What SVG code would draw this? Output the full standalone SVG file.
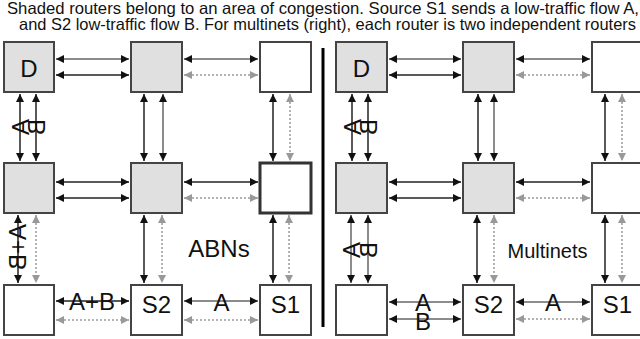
<svg xmlns="http://www.w3.org/2000/svg" width="640" height="339" viewBox="0 0 640 339">
<defs>
<marker id="hb" viewBox="0 0 10 10" refX="10" refY="5" markerWidth="9" markerHeight="8" markerUnits="userSpaceOnUse" orient="auto-start-reverse"><path d="M0,0 L10,5 L0,10 z" fill="#111"/></marker>
<marker id="hg" viewBox="0 0 10 10" refX="10" refY="5" markerWidth="9" markerHeight="8" markerUnits="userSpaceOnUse" orient="auto-start-reverse"><path d="M0,0 L10,5 L0,10 z" fill="#999"/></marker>
</defs>
<style>
.box{stroke:#444;stroke-width:2;fill:#fff}
.sh{fill:#e0e0e0}
.thick{stroke:#333;stroke-width:3}
.s{stroke:#222;stroke-width:1.5;fill:none;marker-start:url(#hb);marker-end:url(#hb)}
.g{stroke:#666;stroke-width:1.5;fill:none;marker-start:url(#hb);marker-end:url(#hb)}
.d{stroke:#999;stroke-width:1.5;stroke-dasharray:2,2;fill:none;marker-start:url(#hg);marker-end:url(#hg)}
text{font-family:"Liberation Sans",Arial,sans-serif;fill:#111}
.lbl{font-size:24px;text-anchor:middle}
.big{font-size:24px;text-anchor:middle}
.title{font-size:16.5px}
</style>
<rect width="640" height="339" fill="#fff"/>
<text class="title" x="7" y="14" textLength="632" lengthAdjust="spacingAndGlyphs">Shaded routers belong to an area of congestion. Source S1 sends a low-traffic flow A,</text>
<text class="title" x="19" y="29.5" textLength="617" lengthAdjust="spacingAndGlyphs">and S2 low-traffic flow B. For multinets (right), each router is two independent routers</text>
<line x1="323" y1="48" x2="323" y2="327" stroke="#000" stroke-width="3"/>
<g id="connectors">
<line class="g" x1="56" y1="59" x2="129" y2="59"/>
<line class="s" x1="56" y1="75" x2="129" y2="75"/>
<line class="g" x1="184" y1="59" x2="258" y2="59"/>
<line class="d" x1="184" y1="75" x2="258" y2="75"/>
<line class="s" x1="56" y1="182" x2="129" y2="182"/>
<line class="s" x1="56" y1="198" x2="129" y2="198"/>
<line class="s" x1="184" y1="182" x2="258" y2="182"/>
<line class="d" x1="184" y1="198" x2="258" y2="198"/>
<line class="s" x1="56" y1="301" x2="129" y2="301"/>
<line class="d" x1="56" y1="320" x2="129" y2="320"/>
<line class="g" x1="184" y1="301" x2="258" y2="301"/>
<line class="d" x1="184" y1="320" x2="258" y2="320"/>
<line class="s" x1="20" y1="94" x2="20" y2="161"/>
<line class="s" x1="36" y1="94" x2="36" y2="161"/>
<line class="s" x1="144" y1="94" x2="144" y2="161"/>
<line class="g" x1="163" y1="94" x2="163" y2="161"/>
<line class="s" x1="273" y1="94" x2="273" y2="161"/>
<line class="d" x1="290" y1="94" x2="290" y2="161"/>
<line class="s" x1="18" y1="215" x2="18" y2="283"/>
<line class="d" x1="36" y1="215" x2="36" y2="283"/>
<line class="s" x1="144" y1="215" x2="144" y2="283"/>
<line class="d" x1="162" y1="215" x2="162" y2="283"/>
<line class="s" x1="273" y1="215" x2="273" y2="283"/>
<line class="d" x1="289" y1="215" x2="289" y2="283"/>
<line class="g" x1="389" y1="59" x2="461" y2="59"/>
<line class="s" x1="389" y1="75" x2="461" y2="75"/>
<line class="g" x1="516" y1="59" x2="590" y2="59"/>
<line class="d" x1="516" y1="75" x2="590" y2="75"/>
<line class="s" x1="389" y1="182" x2="461" y2="182"/>
<line class="s" x1="389" y1="198" x2="461" y2="198"/>
<line class="s" x1="516" y1="182" x2="590" y2="182"/>
<line class="d" x1="516" y1="198" x2="590" y2="198"/>
<line class="g" x1="389" y1="302" x2="461" y2="302"/>
<line class="g" x1="389" y1="319" x2="461" y2="319"/>
<line class="g" x1="516" y1="302" x2="590" y2="302"/>
<line class="d" x1="516" y1="319" x2="590" y2="319"/>
<line class="s" x1="352" y1="94" x2="352" y2="161"/>
<line class="s" x1="368" y1="94" x2="368" y2="161"/>
<line class="s" x1="478" y1="94" x2="478" y2="161"/>
<line class="g" x1="494" y1="94" x2="494" y2="161"/>
<line class="s" x1="605" y1="94" x2="605" y2="161"/>
<line class="d" x1="622" y1="94" x2="622" y2="161"/>
<line class="g" x1="351" y1="215" x2="351" y2="283"/>
<line class="g" x1="368" y1="215" x2="368" y2="283"/>
<line class="s" x1="477" y1="215" x2="477" y2="283"/>
<line class="d" x1="494" y1="215" x2="494" y2="283"/>
<line class="s" x1="605" y1="215" x2="605" y2="283"/>
<line class="d" x1="622" y1="215" x2="622" y2="283"/>
</g>
<g id="L-r1c1"><rect class="box sh" x="4" y="42" width="50" height="50"/><text class="big" x="29" y="77">D</text></g>
<g id="L-r1c2"><rect class="box sh" x="131" y="42" width="51" height="50"/></g>
<g id="L-r1c3"><rect class="box" x="260" y="42" width="51" height="50"/></g>
<g id="L-r2c1"><rect class="box sh" x="4" y="163" width="50" height="50"/></g>
<g id="L-r2c2"><rect class="box sh" x="131" y="163" width="51" height="50"/></g>
<g id="L-r2c3"><rect class="box thick" x="260" y="163" width="51" height="50"/></g>
<g id="L-r3c1"><rect class="box" x="4" y="285" width="50" height="50"/></g>
<g id="L-r3c2"><rect class="box" x="131" y="285" width="51" height="50"/><text class="big" x="156.5" y="313">S2</text></g>
<g id="L-r3c3"><rect class="box" x="260" y="285" width="51" height="50"/><text class="big" x="285.5" y="313">S1</text></g>
<g id="R-r1c1"><rect class="box sh" x="336" y="42" width="51" height="50"/><text class="big" x="361.5" y="77">D</text></g>
<g id="R-r1c2"><rect class="box sh" x="463" y="42" width="51" height="50"/></g>
<g id="R-r1c3"><rect class="box" x="592" y="42" width="51" height="50"/></g>
<g id="R-r2c1"><rect class="box sh" x="336" y="163" width="51" height="50"/></g>
<g id="R-r2c2"><rect class="box sh" x="463" y="163" width="51" height="50"/></g>
<g id="R-r2c3"><rect class="box" x="592" y="163" width="51" height="50"/></g>
<g id="R-r3c1"><rect class="box" x="336" y="285" width="51" height="50"/></g>
<g id="R-r3c2"><rect class="box" x="463" y="285" width="51" height="50"/><text class="big" x="488.5" y="313">S2</text></g>
<g id="R-r3c3"><rect class="box" x="592" y="285" width="51" height="50"/><text class="big" x="617.5" y="313">S1</text></g>
<g id="labels">
<text class="lbl" transform="matrix(0 1 1 0 20 127)" y="8.5">A</text>
<text class="lbl" transform="matrix(0 1 1 0 36 127)" y="8.5">B</text>
<text class="lbl" transform="matrix(0 1 1 0 17 247)" y="8.5">A+B</text>
<text class="lbl" x="92" y="310">A+B</text>
<text class="lbl" x="221.5" y="311">A</text>
<text class="big" x="219" y="257">ABNs</text>
<text class="lbl" transform="matrix(0 1 1 0 352 127)" y="8.5">A</text>
<text class="lbl" transform="matrix(0 1 1 0 368 127)" y="8.5">B</text>
<text class="lbl" transform="matrix(0 1 1 0 351 250)" y="8.5">A</text>
<text class="lbl" transform="matrix(0 1 1 0 368 250)" y="8.5">B</text>
<text class="lbl" x="423" y="311" font-size="22">A</text>
<text class="lbl" x="423" y="330" font-size="22">B</text>
<text class="lbl" x="553" y="311">A</text>
<text x="547.5" y="258" font-size="20" text-anchor="middle">Multinets</text>
</g>
</svg>
